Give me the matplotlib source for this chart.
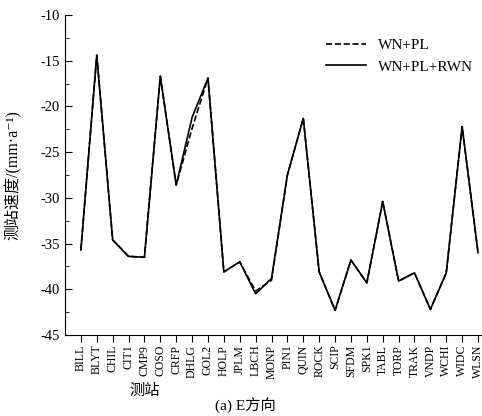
import matplotlib
matplotlib.use("Agg")
import matplotlib.pyplot as plt
from matplotlib.ticker import MultipleLocator
import numpy as np

plt.rcParams['font.family'] = ['Liberation Serif', 'Noto Sans CJK SC', 'DejaVu Serif']
plt.rcParams['axes.unicode_minus'] = False

# 测站名
zhan = ['BILL', 'BLYT', 'CHIL', 'CIT1', 'CMP9', 'COSO', 'CRFP', 'DHLG', 'GOL2',
        'HOLP', 'JPLM', 'LBCH', 'MONP', 'PIN1', 'QUIN', 'ROCK', 'SCIP', 'SFDM',
        'SPK1', 'TABL', 'TORP', 'TRAK', 'VNDP', 'WCHI', 'WIDC', 'WLSN']

# E方向速度 (mm/a)
wn_pl = [-35.7, -14.4, -34.6, -36.4, -36.5, -16.7, -28.6, -22.4, -16.9,
         -38.1, -37.0, -40.2, -39.0, -27.5, -21.3, -38.1, -42.3, -36.8,
         -39.3, -30.4, -39.1, -38.2, -42.2, -38.2, -22.2, -36.0]
wn_pl_rwn = [-35.7, -14.4, -34.6, -36.4, -36.5, -16.7, -28.6, -21.2, -16.9,
             -38.1, -37.0, -40.5, -38.8, -27.5, -21.3, -38.1, -42.3, -36.8,
             -39.3, -30.4, -39.1, -38.2, -42.2, -38.2, -22.2, -36.0]

x = np.arange(len(zhan))

fig = plt.figure(figsize=(4.82, 4.16), dpi=100)
ax = fig.add_axes([65/482, 1 - 335/416, 417/482, 320/416])

ax.plot(x, wn_pl, 'k--', linewidth=1.2, label='WN+PL')
ax.plot(x, wn_pl_rwn, 'k-', linewidth=1.2, label='WN+PL+RWN')

ax.set_xlim(-1, 25.25)
ax.set_ylim(-45, -10)
ax.yaxis.set_major_locator(MultipleLocator(5))
ax.yaxis.set_minor_locator(MultipleLocator(2.5))
ax.set_xticks(x)
ax.set_xticklabels(zhan, rotation=90, fontsize=8.5)
ax.tick_params(axis='y', which='both', direction='in', labelsize=10.5)
ax.tick_params(axis='y', which='major', length=5)
ax.tick_params(axis='y', which='minor', length=3)
ax.tick_params(axis='x', direction='out', length=5, pad=2)

ax.spines['top'].set_visible(False)
ax.spines['right'].set_visible(False)

ax.set_ylabel('测站速度/(mm·a⁻¹)', fontsize=11.5)
ax.yaxis.set_label_coords((22 - 65) / 417, 0.5)
ax.set_xlabel('测站', fontsize=11)
ax.xaxis.set_label_coords((145 - 65) / 417, -49 / 320)

leg = ax.legend(loc='upper right', bbox_to_anchor=(1.0, 0.955), frameon=False,
                fontsize=11, handlelength=2.6, labelspacing=0.5, borderaxespad=0.2)

fig.text(245/482, 1 - 406/416, '(a) E方向', ha='center', va='center', fontsize=11)

fig.savefig('out.png', dpi=100)
